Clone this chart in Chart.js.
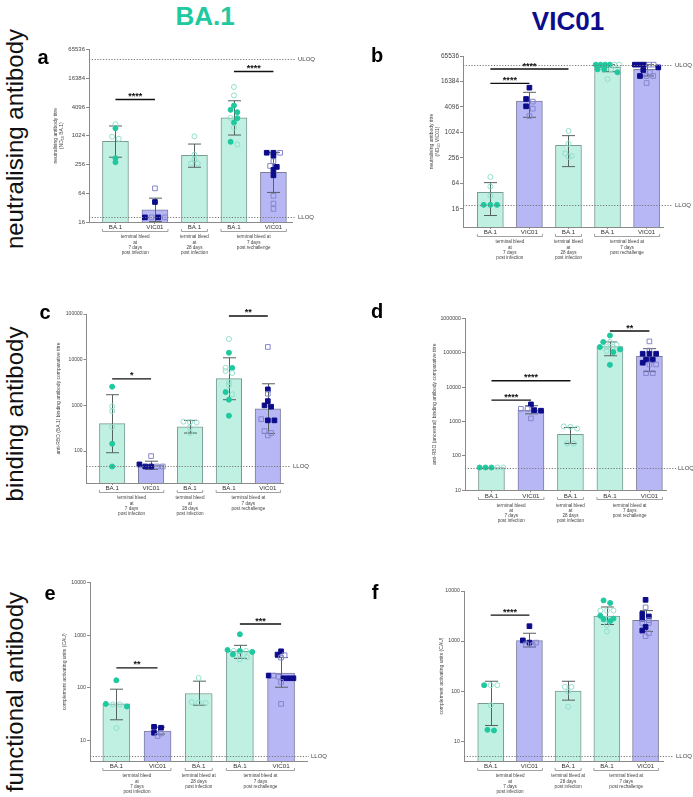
<!DOCTYPE html>
<html>
<head>
<meta charset="utf-8">
<script src="https://cdn.jsdelivr.net/npm/chart.js@4.4.0/dist/chart.umd.min.js"></script>
<style>
  body { margin: 0; background: #fff; }
  #wrap { position: relative; width: 693px; height: 797px; overflow: hidden; font-family: "Liberation Sans", Arial, sans-serif; }
  #wrap canvas { position: absolute; left: 0; top: 0; }
  .hd { position: absolute; font-weight: bold; font-size: 26px; transform: translate(-50%, -50%); white-space: nowrap; }
  .row { position: absolute; font-size: 24px; transform: translate(-50%, -50%) rotate(-90deg); white-space: nowrap; color: #111; }
</style>
</head>
<body>
<div id="wrap">
  <div class="hd" style="left:205px; top:16px; color:#20c9a0;">BA.1</div>
  <div class="hd" style="left:568px; top:21px; color:#0c0c8c;">VIC01</div>
  <div class="row" style="left:15px; top:139px;">neutralising antibody</div>
  <div class="row" style="left:15px; top:414px;">binding antibody</div>
  <div class="row" style="left:15px; top:692px;">functional antibody</div>
</div>
<script>
// ---- data ----
var groupNames = ['BA.1', 'VIC01', 'BA.1', 'BA.1', 'VIC01'];
var groupSpans = [[0, 1], [2, 2], [3, 4]];
var bleedText = [['terminal bleed', 'at', '7 days', 'post infection'], ['terminal bleed', 'at', '28 days', 'post infection'], ['terminal bleed at', '7 days', 'post rechallenge']];
var bleedTextEF = [['terminal bleed', 'at', '7 days', 'post infection'], ['terminal bleed at', '28 days', 'post infection'], ['terminal bleed at', '7 days', 'post rechallenge']];

// a: neutralising, BA.1
var aTicks = [16, 64, 256, 1024, 4096, 16384, 65536];
var aBars = [780, 28.6, 396, 2420, 176];
var aLo = [364, 16.3, 224, 1060, 66.6];
var aHi = [1640, 50.5, 686, 5530, 458];
var aPts = [[1780, 1467, 977, 886, 347, 286], [81, 42, 20, 20, 20, 20], [995, 410, 330, 268, 268],
  [10750, 7180, 4400, 3570, 3190, 2420, 2390, 1930, 1520, 765, 674], [451, 451, 450, 388, 300, 239, 228, 197, 152, 56.5, 39, 30]];
var aFill = [[0, 1, 0, 0, 1, 1], [0, 1, 1, 0, 1, 0], [0, 0, 0, 0, 0],
  [0, 0, 1, 1, 1, 0, 1, 1, 0, 1, 0], [1, 1, 0, 1, 0, 0, 1, 1, 1, 0, 0, 0]];
var aSig = [[0, 1, 5900, '****'], [3, 4, 22700, '****']];

// b: neutralising, VIC01
var bTicks = [16, 64, 256, 1024, 4096, 16384, 65536];
var bBars = [39.6, 5680, 509, 35400, 31700];
var bLo = [11.2, 2340, 160, 27900, 22100];
var bHi = [67, 9090, 862, 40960, 40960];
var bPts = [[91, 54, 33, 20, 20, 20], [11700, 6330, 5480, 4250, 3740, 2500], [1110, 556, 330, 286, 275],
  [40960, 40960, 40960, 40960, 40960, 40960, 31700, 31700, 31700, 27000, 18600],
  [40960, 40960, 40960, 40960, 40960, 35300, 30600, 27000, 22100, 22100, 22100, 15100]];
var bFill = [[0, 0, 0, 1, 1, 1], [1, 1, 0, 1, 0, 0], [0, 0, 0, 0, 0],
  [1, 1, 1, 1, 0, 0, 1, 1, 0, 1, 0], [1, 1, 1, 0, 0, 1, 1, 0, 1, 0, 0, 0]];
var bSig = [[0, 2, 32300, '****'], [0, 1, 14800, '****']];

// c: binding, BA.1
var cTicks = [100, 1000, 10000, 100000];
var cBars = [398, 49.3, 341, 3850, 845];
var cLo = [92, 39.7, 248, 1330, 243];
var cHi = [1710, 60, 469, 11000, 2970];
var cPts = [[2570, 950, 751, 336, 145, 46], [77.7, 51, 46, 46, 46, 46], [440, 430, 420, 330, 250],
  [28300, 14200, 6650, 6600, 5640, 5110, 3240, 2750, 1960, 1740, 1330, 594],
  [19000, 2240, 1800, 1240, 1000, 935, 500, 470, 470, 274, 248, 220]];
var cFill = [[1, 0, 0, 0, 1, 1], [0, 1, 1, 1, 0, 0], [0, 0, 0, 0, 0],
  [0, 1, 0, 1, 0, 0, 0, 0, 1, 0, 1, 1], [0, 1, 0, 1, 1, 1, 0, 1, 1, 0, 0, 0]];
var cSig = [[0, 1, 3800, '*'], [3, 4, 90500, '**']];

// d: binding, ancestral
var dTicks = [10, 100, 1000, 10000, 100000, 1000000];
var dBars = [46, 2140, 427, 150000, 78000];
var dLo = [null, 1670, 229, 81600, 28300];
var dHi = [null, 2880, 670, 205000, 131000];
var dPts = [[46, 46, 46, 46, 46], [3140, 2340, 2330, 2140, 2060, 1230], [720, 700, 625, 230, 230],
  [316000, 205000, 205000, 170000, 146000, 146000, 146000, 125000, 112000, 104000, 44300],
  [213000, 115000, 93400, 93400, 93400, 62600, 62600, 51100, 45400, 45400, 25500, 25500]];
var dFill = [[1, 1, 1, 0, 0], [1, 0, 0, 1, 1, 0], [0, 0, 0, 0, 0],
  [1, 1, 0, 0, 1, 0, 0, 1, 0, 1, 1], [0, 0, 1, 1, 1, 1, 1, 1, 0, 0, 0, 0]];
var dSig = [[0, 2, 15300, '****'], [0, 1, 4170, '****'], [3, 4, 427000, '**']];

// e: functional, BA.1
var eTicks = [10, 100, 1000, 10000];
var eBars = [49, 14.8, 77.2, 493, 190];
var eLo = [24.4, 13, 46.3, 362, 102];
var eHi = [93.5, 17.7, 133, 640, 374];
var ePts = [[138, 49, 48, 48, 43.7, 17], [17.9, 17.2, 13.8, 13.4, 12], [153, 53, 52, 51],
  [1040, 523, 500, 500, 500, 480, 430, 420, 380, 345],
  [493, 427, 414, 374, 170, 170, 162, 151, 151, 151, 128, 49]];
var eFill = [[1, 1, 0, 0, 1, 0], [1, 1, 1, 0, 0], [0, 0, 0, 0],
  [1, 1, 0, 1, 0, 1, 1, 0, 0, 0], [1, 1, 0, 0, 1, 0, 0, 1, 1, 1, 0, 0]];
var eSig = [[0, 1, 238, '**'], [3, 4, 1630, '***']];

// f: functional, VIC01
var fTicks = [10, 100, 1000, 10000];
var fBars = [56.6, 1020, 100, 3170, 2590];
var fLo = [20.5, 760, 65.8, 2140, 1550];
var fHi = [157, 1430, 157, 4790, 4060];
var fPts = [[131, 131, 131, 52, 16.8, 16.3], [1980, 1030, 930, 930, 860, 830], [121, 121, 96.8, 48.5],
  [6480, 5770, 4070, 4070, 4070, 3200, 2810, 2810, 2720, 2500, 2080, 1550],
  [6660, 4710, 3480, 3100, 2810, 2610, 2300, 2300, 1910, 1620, 1430, 1250]];
var fFill = [[1, 0, 0, 0, 1, 1], [1, 1, 1, 0, 0, 0], [0, 0, 0, 0],
  [1, 1, 0, 0, 0, 1, 0, 1, 1, 1, 0, 0], [1, 0, 1, 1, 1, 0, 0, 0, 1, 1, 0, 0]];
var fSig = [[0, 1, 3290, '****']];

// ---- layout / style ----
var W = 693, H = 797, YW = 30, XH = 12;
var FONT = '"Liberation Sans", Arial, sans-serif';
Chart.defaults.font.family = FONT;

var col = {
  tealFill: '#bff0e2', tealLine: '#7a9a93', tealDot: '#1fc9a0', tealOpen: '#8ee0cc',
  vioFill: '#b7b7f6', vioLine: '#7c7c9c', navy: '#0b0b8b', navyOpen: '#8585cc'
};

var panels = [
  { letter: 'a', lx: 43, ly: 58, bars: aBars, lo: aLo, hi: aHi, pts: aPts, fill: aFill, sig: aSig, ticks: aTicks,
    min: 16, max: 65536, uloq: 40960, lloq: 20, text: bleedText,
    title: [['neutralising antibody titre'], ['(ND', '50', ' BA.1)']], titleX: 59,
    left: 89, right: 292, top: 49.5, bottom: 222, xmin: -0.67, xmax: 4.47, barW: 26, tick: 6, qx: 298 },
  { letter: 'b', lx: 377, ly: 56, bars: bBars, lo: bLo, hi: bHi, pts: bPts, fill: bFill, sig: bSig, ticks: bTicks,
    min: 6, max: 65536, uloq: 40960, lloq: 20, text: bleedText,
    title: [['neutralising antibody titre'], ['(ND', '50', ' VIC01)']], titleX: 435,
    left: 463, right: 663, top: 56, bottom: 227, xmin: -0.7, xmax: 4.42, barW: 26, tick: 6.5, qx: 675 },
  { letter: 'c', lx: 45, ly: 313, bars: cBars, lo: cLo, hi: cHi, pts: cPts, fill: cFill, sig: cSig, ticks: cTicks,
    min: 20, max: 100000, uloq: null, lloq: 46, text: bleedText,
    title: [['anti-RBD (BA.1) binding antibody comparative titre']], titleX: 59,
    left: 86.5, right: 283, top: 314, bottom: 483, xmin: -0.66, xmax: 4.39, barW: 25.5, tick: 5, qx: 293 },
  { letter: 'd', lx: 377, ly: 312, bars: dBars, lo: dLo, hi: dHi, pts: dPts, fill: dFill, sig: dSig, ticks: dTicks,
    min: 10, max: 1000000, uloq: null, lloq: 46, text: bleedText,
    title: [['anti-RBD (ancestral) binding antibody comparative titre']], titleX: 435,
    left: 465, right: 666, top: 318.3, bottom: 490.3, xmin: -0.67, xmax: 4.42, barW: 26, tick: 5.3, qx: 678 },
  { letter: 'e', lx: 50, ly: 594, bars: eBars, lo: eLo, hi: eHi, pts: ePts, fill: eFill, sig: eSig, ticks: eTicks,
    min: 4, max: 10000, uloq: null, lloq: 5, text: bleedTextEF,
    title: [['complement activating units (CAU)']], titleX: 65,
    left: 90, right: 307, top: 582.7, bottom: 761, xmin: -0.64, xmax: 4.63, barW: 27, tick: 5.3, qx: 311 },
  { letter: 'f', lx: 375, ly: 593, bars: fBars, lo: fLo, hi: fHi, pts: fPts, fill: fFill, sig: fSig, ticks: fTicks,
    min: 4, max: 10000, uloq: null, lloq: 5, text: bleedTextEF,
    title: [['complement activating units (CAU)']], titleX: 442,
    left: 464, right: 663, top: 591, bottom: 761, xmin: -0.69, xmax: 4.45, barW: 26, tick: 5.3, qx: 676 }
];

// spread points that would overlap into centred rows (like a scatter-dot plot)
function spreadX(vals, g, p) {
  var lmin = Math.log10(p.min), lr = Math.log10(p.max) - lmin, h = p.bottom - p.top;
  var order = vals.map(function (v, k) { return k; }).sort(function (a, b) { return vals[b] - vals[a]; });
  var rows = [];
  order.forEach(function (k) {
    var y = (Math.log10(vals[k]) - lmin) / lr * h;
    var r = rows.find(function (r) { return Math.abs(r.y - y) < 3; });
    if (r) r.ks.push(k); else rows.push({ y: y, ks: [k] });
  });
  var xs = [];
  rows.forEach(function (r) {
    var n = r.ks.length, step = n > 1 ? Math.min(0.17, 0.6 / (n - 1)) : 0;
    r.ks.forEach(function (k, j) { xs[k] = g + (j - (n - 1) / 2) * step; });
  });
  return xs;
}

function extras(p) {
  return {
    id: 'extras' + p.letter,
    afterDatasetDraw: function (chart, args) {
      if (args.index !== 0) return;
      var ctx = chart.ctx, xs = chart.scales.x, ys = chart.scales.y;
      ctx.save();
      ctx.strokeStyle = '#55625f';
      ctx.lineWidth = 1;
      p.lo.forEach(function (lo, i) {
        if (lo == null) return;
        var x = Math.round(xs.getPixelForValue(i)) + 0.5;
        var y1 = ys.getPixelForValue(lo), y2 = ys.getPixelForValue(p.hi[i]);
        ctx.beginPath();
        ctx.moveTo(x, y1); ctx.lineTo(x, y2);
        ctx.moveTo(x - 6.5, y1); ctx.lineTo(x + 6.5, y1);
        ctx.moveTo(x - 6.5, y2); ctx.lineTo(x + 6.5, y2);
        ctx.stroke();
      });
      ctx.restore();
    },
    afterDraw: function (chart) {
      var ctx = chart.ctx, xs = chart.scales.x, ys = chart.scales.y, ca = chart.chartArea;
      ctx.save();
      // quantification limits
      ctx.lineWidth = 1;
      [['ULOQ', p.uloq], ['LLOQ', p.lloq]].forEach(function (q) {
        if (q[1] == null) return;
        var y = Math.round(ys.getPixelForValue(q[1])) + 0.5;
        ctx.strokeStyle = '#777';
        ctx.setLineDash([1.2, 1.6]);
        ctx.beginPath(); ctx.moveTo(ca.left, y); ctx.lineTo(p.qx - 2, y); ctx.stroke();
        ctx.setLineDash([]);
        ctx.fillStyle = '#444';
        ctx.font = '6px ' + FONT;
        ctx.textAlign = 'left'; ctx.textBaseline = 'middle';
        ctx.fillText(q[0], p.qx, y);
      });
      // significance bars
      p.sig.forEach(function (s) {
        var y = ys.getPixelForValue(s[2]);
        var x1 = xs.getPixelForValue(s[0]), x2 = xs.getPixelForValue(s[1]);
        ctx.strokeStyle = '#111'; ctx.lineWidth = 1.4;
        ctx.beginPath(); ctx.moveTo(x1, y); ctx.lineTo(x2, y); ctx.stroke();
        ctx.fillStyle = '#111';
        ctx.font = 'bold 9px ' + FONT;
        ctx.textAlign = 'center'; ctx.textBaseline = 'alphabetic';
        ctx.fillText(s[3], (x1 + x2) / 2, y - 0.5);
      });
      // group brackets under the axis
      groupSpans.forEach(function (gs, k) {
        var xa = xs.getPixelForValue(gs[0]) - p.barW / 2, xb = xs.getPixelForValue(gs[1]) + p.barW / 2;
        var yb = Math.round(p.bottom + 9) + 0.5;
        ctx.strokeStyle = '#8a8a8a'; ctx.lineWidth = 0.8;
        ctx.beginPath();
        ctx.moveTo(xa, yb - 2.5); ctx.lineTo(xa, yb); ctx.lineTo(xb, yb); ctx.lineTo(xb, yb - 2.5);
        ctx.stroke();
        ctx.fillStyle = '#444';
        ctx.font = '4.6px ' + FONT;
        ctx.textAlign = 'center'; ctx.textBaseline = 'middle';
        p.text[k].forEach(function (t, m) { ctx.fillText(t, (xa + xb) / 2, p.bottom + 15 + m * 5.3); });
      });
      // y axis title (with subscript parts)
      ctx.save();
      ctx.translate(p.titleX, (p.top + p.bottom) / 2);
      ctx.rotate(-Math.PI / 2);
      ctx.fillStyle = '#444';
      ctx.textBaseline = 'middle'; ctx.textAlign = 'left';
      var n = p.title.length;
      p.title.forEach(function (segs, m) {
        var yy = (m - (n - 1) / 2) * 5.8;
        var widths = segs.map(function (s, i) { ctx.font = (i % 2 ? '3.6px ' : '5px ') + FONT; return ctx.measureText(s).width; });
        var tot = widths.reduce(function (a, b) { return a + b; }, 0);
        var x = -tot / 2;
        segs.forEach(function (s, i) {
          ctx.font = (i % 2 ? '3.6px ' : '5px ') + FONT;
          ctx.fillText(s, x, yy + (i % 2 ? 1.3 : 0));
          x += widths[i];
        });
      });
      ctx.restore();
      // panel letter
      ctx.fillStyle = '#000';
      ctx.font = 'bold 20px ' + FONT;
      ctx.textAlign = 'center'; ctx.textBaseline = 'middle';
      ctx.fillText(p.letter, p.lx, p.ly);
      ctx.restore();
    }
  };
}

function makeChart(p) {
  var cv = document.createElement('canvas');
  cv.width = W; cv.height = H;
  cv.style.width = W + 'px'; cv.style.height = H + 'px';
  document.getElementById('wrap').appendChild(cv);

  var datasets = [{
    type: 'bar',
    data: p.bars.map(function (v, i) { return { x: i, y: v }; }),
    backgroundColor: groupNames.map(function (g) { return g === 'VIC01' ? col.vioFill : col.tealFill; }),
    borderColor: groupNames.map(function (g) { return g === 'VIC01' ? col.vioLine : col.tealLine; }),
    borderWidth: 1,
    barThickness: p.barW,
    order: 10
  }];
  p.pts.forEach(function (vals, g) {
    var xs = spreadX(vals, g, p);
    var vic = groupNames[g] === 'VIC01';
    var solid = vic ? col.navy : col.tealDot, light = vic ? col.navyOpen : col.tealOpen;
    datasets.push({
      type: 'scatter',
      data: vals.map(function (v, k) { return { x: xs[k], y: v }; }),
      pointStyle: vic ? 'rect' : 'circle',
      pointRadius: vic ? 3.3 : 2.5,
      pointBorderWidth: 1,
      pointBackgroundColor: vals.map(function (v, k) { return p.fill[g][k] ? solid : 'rgba(0,0,0,0)'; }),
      pointBorderColor: vals.map(function (v, k) { return p.fill[g][k] ? solid : light; }),
      order: 0
    });
  });

  new Chart(cv, {
    type: 'bar',
    data: { datasets: datasets },
    options: {
      responsive: false,
      animation: false,
      devicePixelRatio: 1,
      events: [],
      layout: { padding: { left: p.left - YW, right: W - p.right, top: p.top, bottom: H - p.bottom - XH } },
      plugins: { legend: { display: false }, tooltip: { enabled: false } },
      scales: {
        x: {
          type: 'linear', min: p.xmin, max: p.xmax, offset: false,
          afterBuildTicks: function (s) { s.ticks = [0, 1, 2, 3, 4].map(function (v) { return { value: v }; }); },
          afterFit: function (s) { s.height = XH; },
          grid: { drawOnChartArea: false, offset: false, tickLength: 2, color: '#8a8a8a' },
          border: { color: '#8a8a8a' },
          ticks: { callback: function (v) { return groupNames[v]; }, font: { size: 6.2 }, color: '#333', padding: 0, maxRotation: 0, autoSkip: false }
        },
        y: {
          type: 'logarithmic', min: p.min, max: p.max,
          afterBuildTicks: function (s) { s.ticks = p.ticks.map(function (v) { return { value: v }; }); },
          afterFit: function (s) { s.width = YW; },
          grid: { drawOnChartArea: false, tickLength: 3, color: '#8a8a8a' },
          border: { color: '#8a8a8a' },
          ticks: { callback: function (v) { return String(v); }, font: { size: p.tick }, color: '#444', padding: 1, autoSkip: false }
        }
      }
    },
    plugins: [extras(p)]
  });
}

panels.forEach(makeChart);
</script>
</body>
</html>
